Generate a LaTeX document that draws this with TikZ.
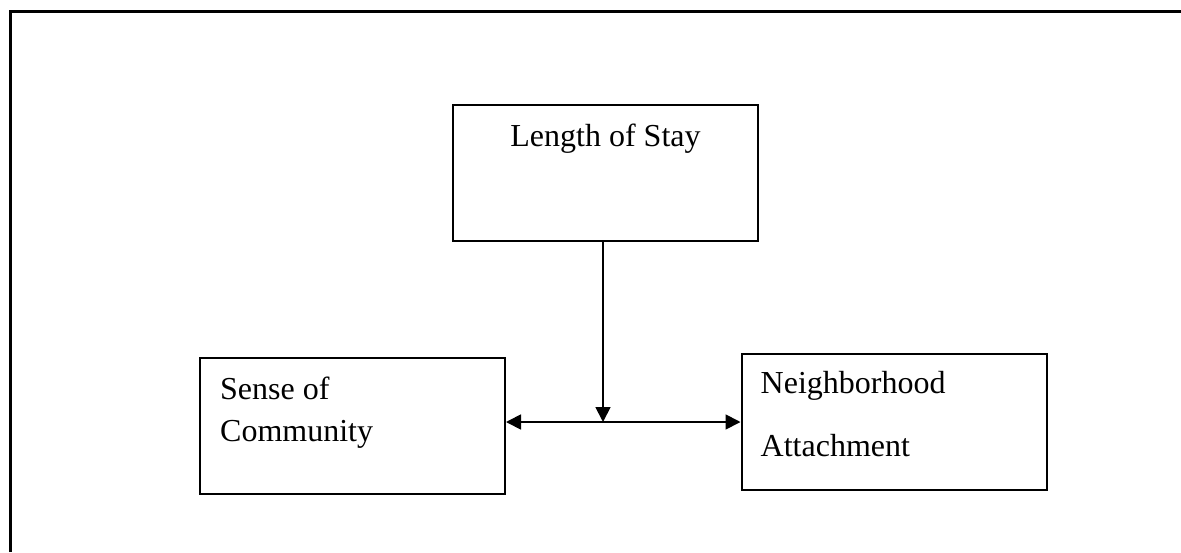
\documentclass[tikz,border=0pt]{standalone}
\usepackage{fontspec}
\setmainfont{Liberation Serif}
\usetikzlibrary{arrows.meta,positioning}

\begin{document}
\begin{tikzpicture}[x=1pt,y=-1pt,
    >={Triangle[length=15pt,width=15pt]},
    box/.style={draw, line width=2pt, minimum width=305pt, minimum height=136pt, inner sep=0pt},
    txt/.style={inner sep=0pt, align=left, font=\fontsize{32}{41.7}\selectfont},
    arr/.style={line width=1.8pt}]
  \useasboundingbox (0,0) rectangle (1181,552);
  \draw[line width=3pt] (10,552) -- (10,11) -- (1181,11);

  \node[box] (los) at (605.5,172.5) {};
  \node[box] (soc) at (352.5,426) {};
  \node[box] (nbh) at (894,422) {};

  \node[txt, below=20pt of los.north] (losTxt) {Length of Stay};
  \node[txt, below right=20pt and 21pt of soc.north west] (socTxt) {Sense of\\Community};
  \node[txt, font=\fontsize{32}{63}\selectfont, below right=18.5pt and 20pt of nbh.north west] (nbhTxt) {Neighborhood\\Attachment};

  \coordinate (top) at ([xshift=-2.5pt]los.south);
  \coordinate (mid) at (top |- nbh.west);
  \draw[arr,->] (top) -- (mid);
  \draw[arr,<->] (soc.east |- nbh.west) -- (nbh.west);
\end{tikzpicture}
\end{document}
